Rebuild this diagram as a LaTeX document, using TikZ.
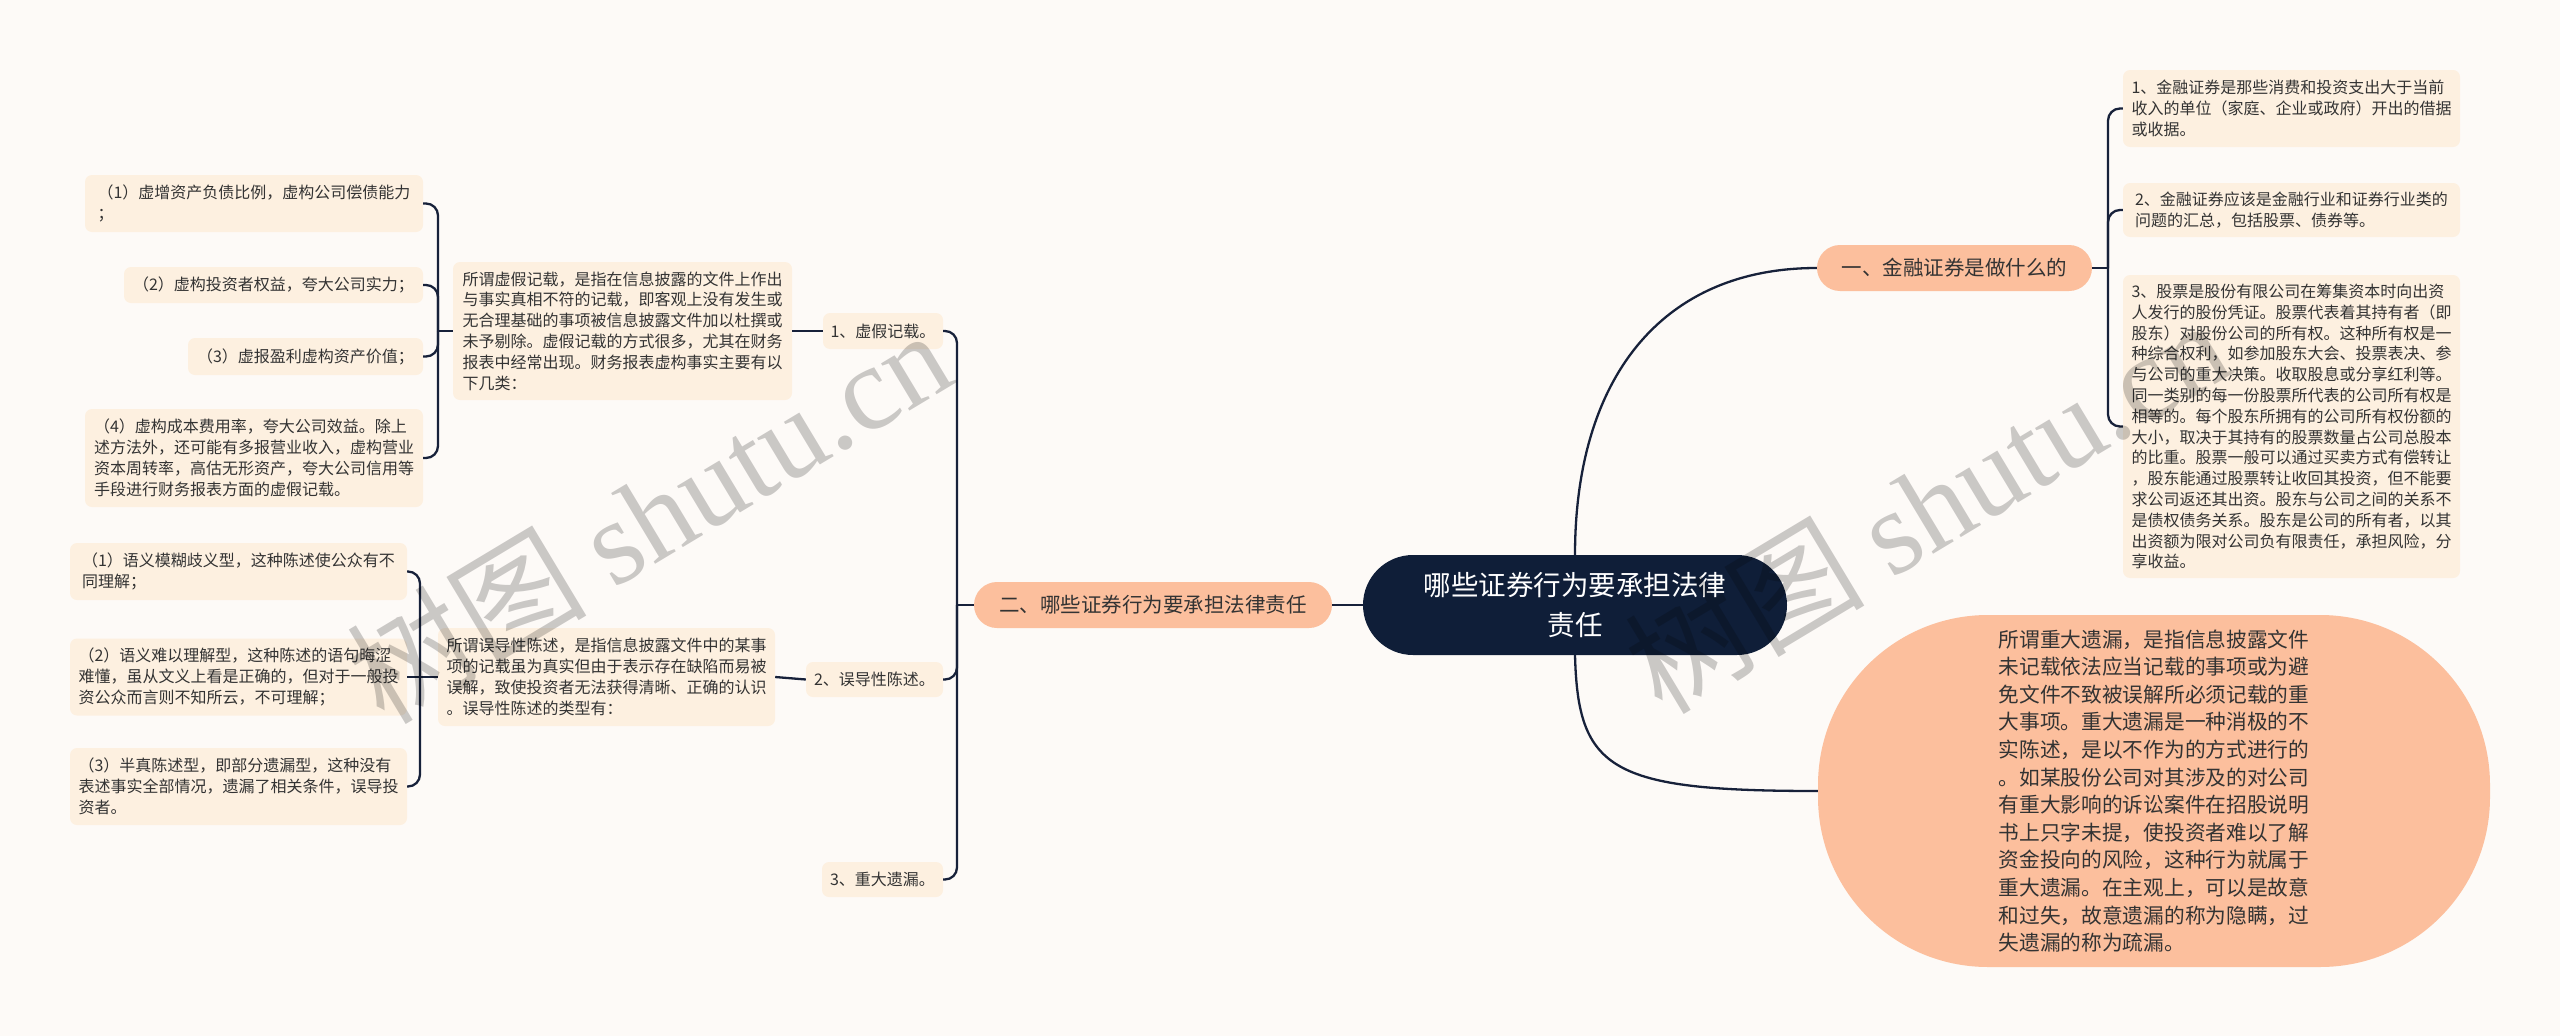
\documentclass[tikz,border=0pt]{standalone}
\usepackage{fontspec}
\setmainfont{Noto Sans CJK SC}
\newfontfamily\wmserif{Liberation Serif}
\definecolor{bgc}{HTML}{FDFAF7}
\definecolor{leafc}{HTML}{FDF0E0}
\definecolor{salmon}{HTML}{FCBF9D}
\definecolor{navy}{HTML}{0F1E38}
\definecolor{txt}{HTML}{333333}
\definecolor{linec}{HTML}{17213A}
\begin{document}
\begin{tikzpicture}[x=1pt,y=-1pt,
  leaf/.style={fill=leafc, rounded corners=7pt, inner sep=0pt, align=left, text=txt, font=\fontsize{16}{20.8}\selectfont},
  branch/.style={fill=salmon, rounded corners=23pt, inner sep=0pt, text=txt, font=\fontsize{20.5}{24}\selectfont, minimum height=46pt},
  conn/.style={draw=linec, line width=2.3pt},
  brk/.style={conn, rounded corners=12pt},
  wm/.style={text=black, opacity=0.2, rotate=31, font=\fontsize{120}{130}\selectfont}
]
\useasboundingbox (0,0) rectangle (2560,1036);
\fill[bgc] (0,0) rectangle (2560,1036);

% ---------- left: 虚假记载 ----------
\node[leaf, minimum width=338pt, minimum height=57pt] (L1a) at (254,203.5) {（1）虚增资产负债比例，虚构公司偿债能力\\；};
\node[leaf, minimum width=299pt, minimum height=36pt] (L1b) at (273.5,285) {（2）虚构投资者权益，夸大公司实力；};
\node[leaf, minimum width=235pt, minimum height=37pt] (L1c) at (305.5,356.5) {（3）虚报盈利虚构资产价值；};
\node[leaf, minimum width=338pt, minimum height=98pt] (L1d) at (254,458) {（4）虚构成本费用率，夸大公司效益。除上\\述方法外，还可能有多报营业收入，虚构营业\\资本周转率，高估无形资产，夸大公司信用等\\手段进行财务报表方面的虚假记载。};
\node[leaf, minimum width=339pt, minimum height=138pt] (P1) at (622.5,331) {所谓虚假记载，是指在信息披露的文件上作出\\与事实真相不符的记载，即客观上没有发生或\\无合理基础的事项被信息披露文件加以杜撰或\\未予剔除。虚假记载的方式很多，尤其在财务\\报表中经常出现。财务报表虚构事实主要有以\\下几类：};
\node[leaf, minimum width=120pt, minimum height=36pt] (N1) at (883,331) {1、虚假记载。};

% ---------- left: 误导性陈述 ----------
\node[leaf, minimum width=337pt, minimum height=57pt] (L2a) at (238.5,571.5) {（1）语义模糊歧义型，这种陈述使公众有不\\同理解；};
\node[leaf, minimum width=337pt, minimum height=77pt] (L2b) at (238.5,677) {（2）语义难以理解型，这种陈述的语句晦涩\\难懂，虽从文义上看是正确的，但对于一般投\\资公众而言则不知所云，不可理解；};
\node[leaf, minimum width=337pt, minimum height=77pt] (L2c) at (238.5,786.5) {（3）半真陈述型，即部分遗漏型，这种没有\\表述事实全部情况，遗漏了相关条件，误导投\\资者。};
\node[leaf, minimum width=337pt, minimum height=98pt] (P2) at (606.5,677) {所谓误导性陈述，是指信息披露文件中的某事\\项的记载虽为真实但由于表示存在缺陷而易被\\误解，致使投资者无法获得清晰、正确的认识\\。误导性陈述的类型有：};
\node[leaf, minimum width=137pt, minimum height=35pt] (N2) at (874.5,679.5) {2、误导性陈述。};
\node[leaf, minimum width=121pt, minimum height=35pt] (N3) at (882.5,879.5) {3、重大遗漏。};

% ---------- branches and center ----------
\node[branch, minimum width=358pt] (B2) at (1153,605) {二、哪些证券行为要承担法律责任};
\node[fill=navy, rounded corners=50pt, minimum width=424pt, minimum height=100pt, inner sep=0pt, align=center, text=white, font=\fontsize{27.5}{40}\selectfont] (C) at (1575,605) {哪些证券行为要承担法律\\责任};
\node[branch, minimum width=275pt] (B1) at (1954.5,268) {一、金融证券是做什么的};

% ---------- right leaves ----------
\node[leaf, minimum width=337pt, minimum height=77pt] (R1) at (2291.5,108.5) {1、金融证券是那些消费和投资支出大于当前\\收入的单位（家庭、企业或政府）开出的借据\\或收据。};
\node[leaf, minimum width=337pt, minimum height=54pt] (R2) at (2291.5,210) {2、金融证券应该是金融行业和证券行业类的\\问题的汇总，包括股票、债券等。};
\node[leaf, minimum width=337pt, minimum height=303pt] (R3) at (2291.5,426.5) {3、股票是股份有限公司在筹集资本时向出资\\人发行的股份凭证。股票代表着其持有者（即\\股东）对股份公司的所有权。这种所有权是一\\种综合权利，如参加股东大会、投票表决、参\\与公司的重大决策。收取股息或分享红利等。\\同一类别的每一份股票所代表的公司所有权是\\相等的。每个股东所拥有的公司所有权份额的\\大小，取决于其持有的股票数量占公司总股本\\的比重。股票一般可以通过买卖方式有偿转让\\，股东能通过股票转让收回其投资，但不能要\\求公司返还其出资。股东与公司之间的关系不\\是债权债务关系。股东是公司的所有者，以其\\出资额为限对公司负有限责任，承担风险，分\\享收益。};
\node[fill=salmon, rounded corners=170pt, minimum width=672pt, minimum height=352pt, inner sep=0pt, align=left, text=txt, font=\fontsize{20.7}{27.6}\selectfont] (BIG) at (2154,791) {所谓重大遗漏，是指信息披露文件\\未记载依法应当记载的事项或为避\\免文件不致被误解所必须记载的重\\大事项。重大遗漏是一种消极的不\\实陈述，是以不作为的方式进行的\\。如某股份公司对其涉及的对公司\\有重大影响的诉讼案件在招股说明\\书上只字未提，使投资者难以了解\\资金投向的风险，这种行为就属于\\重大遗漏。在主观上，可以是故意\\和过失，故意遗漏的称为隐瞒，过\\失遗漏的称为疏漏。};

% ---------- connectors ----------
\coordinate (J1) at (438,331);
\coordinate (J2) at (420,677);
\coordinate (J3) at (957,605);
\coordinate (J4) at (2108,268);

\draw[conn] (J1) -- (P1.west);
\foreach \n in {L1a,L1b,L1c,L1d} \draw[brk] (J1) |- (\n.east);
\draw[conn] (P1.east) -- (N1.west);

\draw[conn] (L2b.east) -- (P2.west);
\foreach \n in {L2a,L2c} \draw[brk] (J2) |- (\n.east);
\draw[conn] (P2.east) -- (N2.west);

\draw[conn] (J3) -- (B2.west);
\foreach \n in {N1,N2,N3} \draw[brk] (J3) |- (\n.east);

\draw[conn] (B2.east) -- (C.west);
\draw[conn] (C.north) .. controls (1575,380) and (1660,268) .. (B1.west);
\draw[conn] (C.south) .. controls (1578,770) and (1610,791) .. (BIG.west);

\draw[conn] (B1.east) -- (J4);
\foreach \n in {R1,R2,R3} \draw[brk] (J4) |- (\n.west);

% ---------- watermarks ----------
\node[wm] (W1) at (648,515) {树图 {\wmserif shutu.cn}};
\node[wm] (W2) at (1926,505) {树图 {\wmserif shutu.cn}};
\end{tikzpicture}
\end{document}
